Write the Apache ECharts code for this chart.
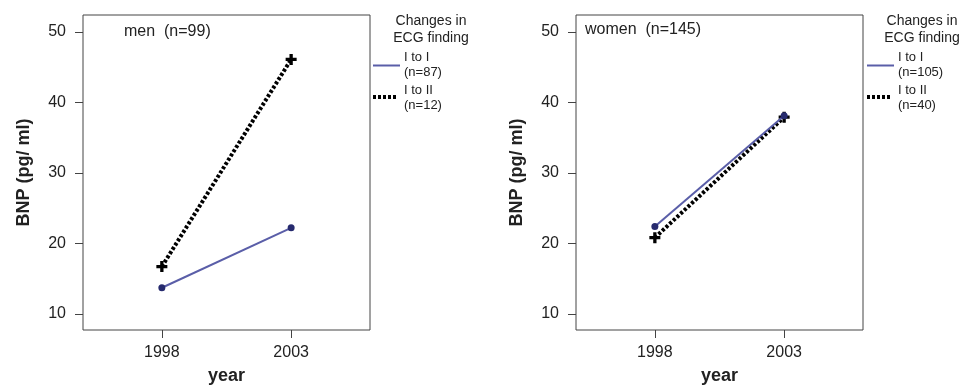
<!DOCTYPE html>
<html><head><meta charset="utf-8">
<script src="https://cdn.jsdelivr.net/npm/echarts@6/dist/echarts.min.js"></script>
<style>html,body{margin:0;padding:0;background:#fff}#c{width:968px;height:386px}</style>
</head><body><div id="c"></div>
<script>
const years = [1998, 2003];
const yTicks = [10, 20, 30, 40, 50];
const menItoI = [13.7, 22.2];
const menItoII = [16.7, 46.1];
const womenItoI = [22.4, 38.1];
const womenItoII = [20.8, 37.9];
const panelTitles = ['men  (n=99)', 'women  (n=145)'];
const legendTitle = ['Changes in', 'ECG finding'];
const legendMen = ['I to I', '(n=87)', 'I to II', '(n=12)'];
const legendWomen = ['I to I', '(n=105)', 'I to II', '(n=40)'];

const FONT = '"Liberation Sans", Arial, Helvetica, sans-serif';
const TXT = '#222';
const BLUE_LINE = '#5a5ea8';
const BLUE_DOT = '#262a6e';
const PLUS = 'path://M3.5,0H6.5V3.5H10V6.5H6.5V10H3.5V6.5H0V3.5H3.5Z';

const pair = a => years.map((y, i) => [y, a[i]]);

const grids = [
  {left: 83, top: 15, width: 287, height: 315},
  {left: 576, top: 15, width: 287, height: 315}
];

function xAxis(gi) {
  return {
    type: 'value', gridIndex: gi, min: 1994.95, max: 2006.05,
    name: 'year', nameLocation: 'middle', nameGap: 37,
    nameTextStyle: {fontFamily: FONT, fontSize: 18, fontWeight: 'bold', color: TXT},
    axisLine: {show: false}, splitLine: {show: false},
    axisTick: {show: true, length: 8, lineStyle: {color: '#444'}, customValues: years},
    axisLabel: {customValues: years, formatter: v => String(v), fontFamily: FONT, fontSize: 16, color: TXT, margin: 15}
  };
}
function yAxis(gi) {
  return {
    type: 'value', gridIndex: gi, min: 7.7, max: 52.4,
    name: 'BNP (pg/ ml)', nameLocation: 'middle', nameGap: 50,
    nameTextStyle: {fontFamily: FONT, fontSize: 18, fontWeight: 'bold', color: TXT},
    axisLine: {show: false}, splitLine: {show: false},
    axisTick: {show: true, length: 8, lineStyle: {color: '#444'}, customValues: yTicks},
    axisLabel: {customValues: yTicks, fontFamily: FONT, fontSize: 16, color: TXT, margin: 17}
  };
}

function blueSeries(gi, data) {
  return {type: 'line', xAxisIndex: gi, yAxisIndex: gi, data: pair(data),
    lineStyle: {color: BLUE_LINE, width: 2}, symbol: 'circle', symbolSize: 7,
    itemStyle: {color: BLUE_DOT}, z: 3, animation: false};
}
function dotSeries(gi, data) {
  return {type: 'line', xAxisIndex: gi, yAxisIndex: gi, data: pair(data),
    lineStyle: {color: '#000', width: 4, type: [3, 2]}, symbol: PLUS, symbolSize: 11,
    itemStyle: {color: '#000'}, z: 2, animation: false};
}

function legendGraphics(x0, cx, items) {
  const ts = (t, x, y, size, align) => ({type: 'text', x: x, y: y,
    style: {text: t, font: size + 'px ' + FONT, fill: TXT, align: align || 'left', verticalAlign: 'middle'}});
  return [
    ts(legendTitle[0], cx, 21, 14, 'center'),
    ts(legendTitle[1], cx, 38, 14, 'center'),
    {type: 'line', shape: {x1: x0, y1: 65.5, x2: x0 + 27, y2: 65.5}, style: {stroke: BLUE_LINE, lineWidth: 2}},
    ts(items[0], x0 + 31, 57, 13),
    ts(items[1], x0 + 31, 72, 13),
    {type: 'line', shape: {x1: x0, y1: 97, x2: x0 + 25, y2: 97}, style: {stroke: '#000', lineWidth: 4, lineDash: [3, 2]}},
    ts(items[2], x0 + 31, 90, 13),
    ts(items[3], x0 + 31, 105, 13)
  ];
}

const chart = echarts.init(document.getElementById('c'), null, {renderer: 'canvas'});
chart.setOption({
  animation: false,
  backgroundColor: '#fff',
  grid: grids.map(g => Object.assign({show: true, borderColor: '#444', borderWidth: 1, backgroundColor: 'transparent', containLabel: false, outerBoundsMode: 'none'}, g)),
  xAxis: [xAxis(0), xAxis(1)],
  yAxis: [yAxis(0), yAxis(1)],
  title: [
    {text: panelTitles[0], left: 124, top: 24, textStyle: {fontFamily: FONT, fontSize: 16, fontWeight: 'normal', color: TXT}, padding: 0},
    {text: panelTitles[1], left: 585, top: 22, textStyle: {fontFamily: FONT, fontSize: 16, fontWeight: 'normal', color: TXT}, padding: 0}
  ],
  series: [
    dotSeries(0, menItoII), blueSeries(0, menItoI),
    dotSeries(1, womenItoII), blueSeries(1, womenItoI)
  ],
  graphic: legendGraphics(373, 431, legendMen).concat(legendGraphics(867, 922, legendWomen))
});
</script></body></html>
